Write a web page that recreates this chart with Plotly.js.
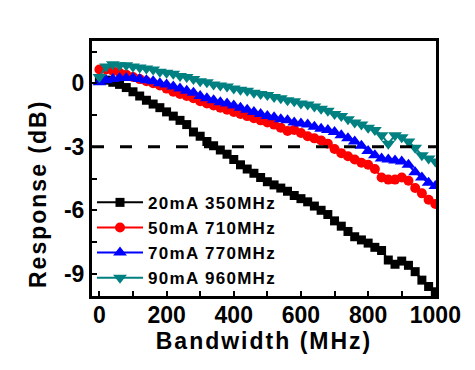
<!DOCTYPE html>
<html>
<head>
<meta charset="utf-8">
<script src="https://cdn.plot.ly/plotly-3.0.1.min.js"></script>
<style>
html,body{margin:0;padding:0;background:#fff;}
#chart{width:475px;height:370px;}
#chart text.xtitle{letter-spacing:2px;}
#chart text.annotation-text{letter-spacing:2px;}
#chart text.legendtext{letter-spacing:1.3px;}
#chart g.legend g.scrollbox{clip-path:none !important;}
#chart g.legend{clip-path:none !important;}
</style>
</head>
<body>
<div id="chart"></div>
<script>
// Frequency (MHz)
var freq = [0,20,40,60,80,100,120,140,160,180,200,220,240,260,280,300,320,340,360,380,400,420,440,460,480,500,520,540,560,580,600,620,640,660,680,700,720,740,760,780,800,820,840,860,880,900,920,940,960,980,1000];

// Response (dB)
var resp20mA = [0.2,0.15,0.05,-0.05,-0.2,-0.4,-0.6,-0.8,-0.98,-1.15,-1.35,-1.55,-1.75,-1.95,-2.3,-2.5,-2.75,-2.95,-3.15,-3.35,-3.6,-3.85,-4.05,-4.25,-4.45,-4.65,-4.8,-4.95,-5.1,-5.3,-5.45,-5.6,-5.8,-6.0,-6.2,-6.5,-6.75,-7.0,-7.25,-7.4,-7.55,-7.75,-7.9,-8.35,-8.55,-8.4,-8.6,-8.9,-9.3,-9.6,-9.85];
var resp50mA = [0.65,0.65,0.6,0.5,0.4,0.3,0.2,0.1,0.0,-0.1,-0.25,-0.4,-0.5,-0.6,-0.7,-0.85,-0.95,-1.05,-1.15,-1.25,-1.35,-1.45,-1.55,-1.65,-1.75,-1.85,-1.95,-2.1,-2.25,-2.2,-2.35,-2.5,-2.6,-2.7,-2.85,-3.1,-3.3,-3.45,-3.6,-3.75,-3.85,-4.05,-4.45,-4.55,-4.55,-4.45,-4.6,-4.95,-5.2,-5.5,-5.7];
var resp70mA = [0.05,0.15,0.2,0.25,0.25,0.25,0.2,0.15,0.1,0.0,-0.05,-0.15,-0.25,-0.35,-0.45,-0.6,-0.7,-0.8,-0.9,-0.95,-1.05,-1.15,-1.25,-1.35,-1.45,-1.55,-1.6,-1.7,-1.75,-1.85,-1.9,-1.95,-2.05,-2.15,-2.2,-2.3,-2.45,-2.6,-2.75,-2.95,-3.2,-3.4,-3.55,-3.6,-3.65,-3.7,-3.85,-4.2,-4.45,-4.7,-4.85];
var resp90mA = [0.3,0.8,0.9,0.85,0.85,0.8,0.75,0.7,0.65,0.55,0.5,0.45,0.35,0.3,0.2,0.1,0.05,-0.05,-0.1,-0.15,-0.25,-0.3,-0.35,-0.45,-0.5,-0.55,-0.65,-0.7,-0.8,-0.85,-0.95,-1.0,-1.1,-1.2,-1.3,-1.45,-1.55,-1.7,-1.85,-1.95,-2.1,-2.2,-2.45,-2.85,-2.45,-2.55,-2.75,-3.05,-3.4,-3.55,-3.7];

var seriesNames = ['20mA 350MHz','50mA 710MHz','70mA 770MHz','90mA 960MHz'];
var refLevel = -3;

var xTickVals = [0,200,400,600,800,1000];
var xTickText = ['0','200','400','600','800','1000'];
var yTickVals = [0,-3,-6,-9];
var yTickText = ['0','-3','-6','-9'];

var FONT = 'Liberation Sans, Arial, sans-serif';
var series = [resp20mA, resp50mA, resp70mA, resp90mA];
var colors = ['#000000','#ff0000','#0000ff','#008080'];
var symbols = ['square','circle','triangle-up','triangle-down'];
var sizes = [9,10,12,12];

var traces = series.map(function(s,i){
  return {
    x: freq, y: s, name: seriesNames[i], type:'scatter', mode:'lines+markers',
    line:{color:colors[i], width:2},
    marker:{symbol:symbols[i], size:sizes[i], color:colors[i], line:{width:0}},
    cliponaxis:true
  };
});

var layout = {
  width:475, height:370,
  margin:{l:92, r:39, t:41, b:74},
  paper_bgcolor:'#ffffff', plot_bgcolor:'#ffffff',
  showlegend:true,
  legend:{x:0.0, xanchor:'left', y:0.436, yanchor:'top', bgcolor:'rgba(0,0,0,0)',
          font:{family:FONT, size:17, weight:'bold', color:'#000'}, itemwidth:46, tracegroupgap:0},
  xaxis:{
    range:[-22,1002], showgrid:false, zeroline:false,
    showline:true, linecolor:'#000', linewidth:3, mirror:true,
    tickmode:'array', tickvals:xTickVals, ticktext:xTickText,
    ticks:'inside', ticklen:5, tickwidth:2, tickcolor:'#000',
    minor:{tickmode:'linear', tick0:0, dtick:100, ticks:'inside', ticklen:5, tickwidth:2, tickcolor:'#000', showgrid:false},
    tickfont:{family:FONT, size:23, weight:'bold', color:'#000'},
    ticklabelstandoff:-4,
    title:{text:'Bandwidth (MHz)', font:{family:FONT, size:23, weight:'bold', color:'#000'}, standoff:1}
  },
  yaxis:{
    range:[-10.05,2.0], showgrid:false, zeroline:false,
    showline:true, linecolor:'#000', linewidth:3, mirror:true,
    tickmode:'array', tickvals:yTickVals, ticktext:yTickText,
    ticks:'inside', ticklen:5, tickwidth:2, tickcolor:'#000',
    minor:{tickmode:'linear', tick0:0, dtick:1.5, ticks:'inside', ticklen:5, tickwidth:2, tickcolor:'#000', showgrid:false},
    tickfont:{family:FONT, size:23, weight:'bold', color:'#000'},
    ticklabelstandoff:0
  },
  shapes:[{type:'line', xref:'paper', x0:0, x1:1, yref:'y', y0:refLevel, y1:refLevel,
           line:{color:'#000', width:3, dash:'12px,16px'}}],
  annotations:[{text:'Response (dB)', xref:'paper', yref:'paper', x:-0.157, y:0.40,
                xanchor:'center', yanchor:'middle', textangle:-90, showarrow:false,
                font:{family:FONT, size:23, weight:'bold', color:'#000'}}]
};

Plotly.newPlot('chart', traces, layout, {staticPlot:true, displayModeBar:false});
</script>
</body>
</html>
